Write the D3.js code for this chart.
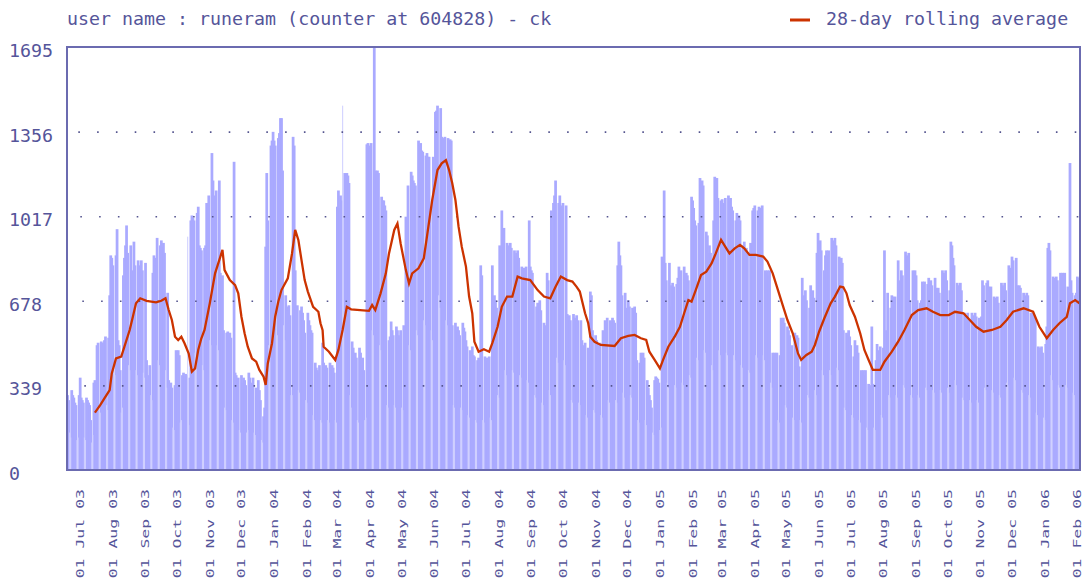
<!DOCTYPE html>
<html>
<head>
<meta charset="utf-8">
<script src="https://cdn.jsdelivr.net/npm/d3@7"></script>
<style>
  body { margin: 0; background: #fff; }
  svg { display: block; }
  text { font-family: "DejaVu Sans Mono", monospace; fill: #55559a; }
</style>
</head>
<body>
<svg width="1083" height="581"></svg>
<script>
const title = "user name : runeram (counter at 604828) - ck";
const legendLabel = "28-day rolling average";
const firstDay = new Date(Date.UTC(2003, 5, 19));
const endDay = new Date(Date.UTC(2006, 1, 4));
const yTicks = [0, 339, 678, 1017, 1356, 1695];

// daily hits, 19 Jun 2003 .. 31 Dec 2003
const hits2003 = [
  300, 280, 150, 130, 320, 300, 290,  270, 260, 120, 130, 300, 370, 290,
  280, 270, 130, 120, 290, 280, 270,  260, 200, 110, 140, 350, 360, 340,
  500, 510, 250, 230, 515, 505, 510,  520, 535, 260, 240, 530, 700, 860,
  850, 820, 400, 380, 860, 965, 520,  500, 400, 230, 250, 780, 850, 900,
  980, 870, 420, 400, 900, 800, 760,  915, 820, 400, 380, 840, 800, 820,
  840, 800, 390, 370, 830, 440, 360,  380, 420, 300, 280, 790, 860, 820,
  850, 930, 440, 420, 900, 920, 895,  910, 870, 400, 330, 710, 360, 340,
  350, 330, 170, 160, 340, 480, 470,  480, 460, 190, 200, 380, 390, 375,
  385, 380, 935, 180, 370, 1000, 1020, 1010, 1000, 470, 450, 1030, 1055, 900,
  890, 880, 420, 400, 890, 900, 1070, 1050, 1100, 520, 500, 1270, 1160, 1100,
  1070, 1120, 500, 480, 1160, 790, 770, 780, 560, 250, 240, 550, 555, 540,
  550, 530, 200, 190, 1235, 390, 380, 360, 370, 160, 150, 380, 350, 370,
  360, 340, 150, 160, 390, 370, 350,  340, 370, 150, 140, 330, 300, 360,
  320, 280, 120, 110, 215, 250, 895,  1190, 1000, 500, 480, 1300, 1320, 1355
];

// daily hits, 2004
const hits2004 = [
  1320, 1300, 560, 540, 1330, 1350, 1410, 1410, 1200, 580, 520, 700, 655, 640,
  660, 620, 300, 300, 1335, 1300, 800,  650, 660, 320, 310, 640, 655, 630,
  600, 550, 280, 270, 630, 600, 580,  560, 550, 220, 200, 430, 410, 400,
  390, 420, 200, 190, 510, 430, 400,  420, 410, 200, 190, 430, 400, 420,
  410, 390, 200, 190, 1055, 1120, 1050, 1100, 1080, 1460, 600, 1190, 1180, 1190,
  1180, 1150, 300, 250, 515, 490, 460, 470, 450, 200, 190, 490, 470, 420,
  450, 400, 200, 210, 1305, 1310, 1300, 1290, 1310, 560, 540, 1695, 1200, 1190,
  1200, 1190, 500, 480, 1095, 1080, 1080, 1060, 1040, 260, 250, 520, 535, 595,
  560, 540, 260, 250, 575, 560, 540,  530, 560, 250, 240, 580, 560, 1015,
  900, 1140, 500, 480, 1195, 1180, 1160, 1150, 1140, 560, 540, 1320, 1300, 1310,
  1280, 1275, 600, 580, 1260, 1270, 1255, 1255, 1040, 560, 520, 1255, 1240, 1435,
  1440, 1460, 700, 650, 1450, 1335, 1330, 1320, 1335, 600, 580, 1330, 1320, 1325,
  1320, 580, 260, 250, 590, 560, 575,  560, 540, 250, 240, 590, 570, 555,
  520, 495, 220, 210, 480, 470, 495,  460, 455, 200, 190, 440, 450, 430,
  820, 780, 200, 190, 455, 440, 450,  440, 455, 210, 200, 820, 655, 700,
  680, 650, 300, 290, 900, 880, 1040,  870, 970, 400, 380, 910, 900, 880,
  910, 890, 400, 390, 880, 860, 870,  880, 850, 380, 370, 815, 800, 810,
  790, 815, 360, 350, 1000, 815, 800,  790, 680, 300, 290, 655, 670, 660,
  680, 640, 270, 260, 590, 580, 570,  790, 760, 320, 300, 1040, 790, 1070,
  1100, 1160, 450, 430, 1070, 1100, 1060, 1055, 1070, 440, 420, 1060, 625, 610,
  620, 600, 280, 270, 625, 610, 600,  620, 600, 270, 260, 600, 520, 500,
  470, 510, 220, 210, 490, 470, 715,  700, 560, 240, 230, 540, 520, 500,
  455, 510, 220, 210, 560, 530, 600,  595, 610, 280, 270, 600, 595, 610,
  600, 590, 280, 270, 820, 915, 860,  820, 700, 310, 290, 710, 620, 650,
  680, 655, 300, 290, 650, 640, 655,  630, 440, 200, 190, 430, 470, 460,
  470, 450, 200, 180, 360, 330, 300,  280, 250, 150, 140, 360, 375, 370,
  365, 350
];

// daily hits, 2005
const hits2005 = [
  160, 170, 855, 820, 1120,
  830, 760, 350, 330, 830, 655, 740,  750, 735, 340, 330, 745, 770, 815,
  780, 800, 350, 340, 815, 750, 790,  780, 760, 380, 370, 1095, 1080, 1050,
  1000, 980, 450, 440, 990, 1170, 1150, 1160, 1140, 480, 470, 955, 940, 870,
  900, 870, 420, 400, 1000, 1175, 1160, 1170, 1090, 480, 460, 1080, 1085, 1070,
  1060, 1090, 470, 460, 1100, 1080, 1090, 1055, 1040, 460, 440, 1000, 1030, 995,
  1020, 1000, 420, 410, 900, 915, 880,  890, 870, 400, 390, 910, 900, 1040,
  1050, 1060, 460, 450, 1040, 1055, 1050, 1045, 1060, 460, 440, 800, 790, 800,
  780, 800, 350, 330, 470, 460, 470,  450, 470, 200, 190, 460, 610, 600,
  610, 590, 260, 250, 575, 560, 540,  470, 500, 210, 200, 550, 415, 540,
  530, 415, 200, 190, 770, 550, 700,  720, 680, 300, 290, 650, 740, 700,
  720, 690, 320, 300, 870, 950, 900,  920, 880, 400, 380, 800, 860, 880,
  860, 880, 400, 380, 930, 920, 910,  930, 900, 410, 400, 855, 840, 850,
  830, 560, 250, 240, 550, 540, 560,  535, 500, 220, 210, 455, 520, 480,
  500, 470, 200, 190, 400, 390, 400,  380, 400, 170, 160, 345, 330, 340,
  575, 345, 170, 160, 440, 505, 480,  470, 495, 220, 210, 490, 880, 480,
  560, 710, 300, 290, 650, 700, 695,  680, 695, 300, 290, 840, 710, 760,
  800, 780, 340, 330, 875, 860, 850,  870, 680, 300, 290, 800, 790, 800,
  780, 680, 300, 290, 670, 680, 755,  740, 755, 330, 320, 745, 770, 740,
  760, 740, 320, 310, 770, 730, 720,  730, 710, 320, 310, 800, 790, 780,
  800, 760, 330, 310, 720, 915, 900,  850, 820, 360, 340, 750, 740, 730,
  750, 720, 290, 280, 630, 620, 610,  630, 600, 280, 270, 630, 620, 600,
  630, 615, 280, 270, 610, 600, 615,  760, 740, 330, 320, 750, 760, 735,
  720, 735, 320, 310, 695, 680, 690,  695, 670, 300, 290, 750, 740, 730,
  750, 720, 350, 340, 820, 800, 810,  855, 840, 370, 360, 850, 740, 720,
  740, 730, 320, 310, 710, 700, 690,  710, 700, 300, 290, 630, 620, 630,
  620, 600, 230, 220, 495, 480, 490,  495, 470, 210
];

// daily hits, 1 Jan 2006 .. 3 Feb 2006
const hits2006 = [
  200, 505, 575, 890,
  910, 880, 380, 360, 775, 760, 770,  775, 760, 340, 330, 790, 780, 790,
  780, 790, 340, 330, 735, 720, 1230,  760, 710, 310, 300, 700, 710, 775,
  770, 760
];

// 28-day rolling average: [days since 19 Jun 2003, value]
const rollingAvg = [
  [26,230],[31,260],[35,287],[40,320],[42,387],[46,447],[51,454],[54,494],[59,561],[62,614],
  [65,668],[69,688],[75,678],[84,672],[89,678],[93,688],[96,641],[99,601],[102,534],[105,521],
  [108,534],[111,508],[115,467],[118,394],[121,407],[124,481],[127,528],[130,561],[135,668],[140,788],
  [144,841],[147,882],[149,801],[154,761],[159,741],[162,708],[165,614],[168,548],[171,494],[175,447],
  [179,434],[182,401],[186,374],[188,341],[190,427],[194,508],[197,614],[200,675],[203,721],[209,768],
  [213,868],[216,962],[219,922],[222,841],[225,761],[228,715],[233,654],[238,634],[240,588],[242,560],
  [243,494],[248,474],[254,441],[257,481],[261,561],[265,654],[269,644],[286,638],[289,661],[292,641],
  [297,708],[302,788],[305,868],[310,962],[313,988],[316,908],[321,801],[324,748],[327,788],[333,808],
  [338,848],[341,935],[346,1082],[351,1202],[355,1229],[359,1242],[362,1202],[365,1149],[368,1082],[371,975],
  [374,895],[378,815],[381,695],[384,628],[386,514],[390,474],[395,484],[400,474],[403,508],[408,574],
  [412,654],[417,695],[422,695],[427,775],[431,768],[439,761],[446,721],[452,695],[458,688],[463,734],
  [468,775],[474,761],[479,755],[483,734],[486,715],[491,628],[494,588],[496,534],[500,514],[506,501],
  [519,497],[525,528],[532,537],[538,541],[544,528],[549,521],[552,474],[557,441],[562,407],[565,441],
  [570,494],[576,534],[581,574],[585,628],[589,681],[592,675],[596,721],[601,781],[606,795],[611,828],
  [615,868],[620,922],[625,888],[628,868],[633,888],[638,902],[642,888],[647,862],[653,862],[660,855],
  [664,835],[669,788],[674,721],[679,654],[683,601],[688,548],[693,467],[696,441],[701,461],[706,474],
  [709,501],[713,554],[718,608],[724,668],[728,695],[733,735],[736,732],[739,708],[742,661],[747,614],
  [752,548],[756,481],[760,441],[764,401],[771,401],[775,434],[782,474],[788,514],[794,561],[801,621],
  [807,641],[815,648],[821,634],[828,621],[836,621],[842,634],[850,628],[856,601],[862,574],[869,554],
  [877,561],[885,574],[891,601],[897,634],[907,648],[916,634],[922,574],[929,528],[935,561],[941,588],
  [948,614],[951,668],[956,681],[960,668]
];

const margin = {top: 47, right: 3, bottom: 111, left: 67},
    width = 1083 - margin.left - margin.right,
    height = 581 - margin.top - margin.bottom;

const frameColor = "#6b6bb0";
const barColor = "#aaaaff";
const weekendColor = "#d0d0ff";
const avgColor = "#cc3300";

const x = d3.scaleUtc().domain([firstDay, endDay]).range([0, width]);
const y = d3.scaleLinear().domain([0, d3.max(yTicks)]).range([height, 0]);
const dayW = x(d3.utcDay.offset(firstDay, 1)) - x(firstDay);

const hits = [...hits2003, ...hits2004, ...hits2005, ...hits2006]
    .map((v, i) => ({date: d3.utcDay.offset(firstDay, i), value: v}));
const isWeekend = d => d.date.getUTCDay() === 0 || d.date.getUTCDay() === 6;

const root = d3.select("svg");

root.append("text")
    .attr("x", 67)
    .attr("y", 25)
    .attr("font-size", "18.3px")
    .text(title);

root.append("line")
    .attr("x1", 790).attr("x2", 810)
    .attr("y1", 20).attr("y2", 20)
    .attr("stroke", avgColor)
    .attr("stroke-width", 3);

root.append("text")
    .attr("x", 826)
    .attr("y", 25)
    .attr("font-size", "18.3px")
    .text(legendLabel);

const svg = root.append("g")
    .attr("transform", `translate(${margin.left},${margin.top})`);

svg.append("clipPath")
    .attr("id", "plot-clip")
    .append("rect")
    .attr("width", width)
    .attr("height", height);

const bars = svg.append("g").attr("clip-path", "url(#plot-clip)");

// weekday bars are drawn wide so they close over the gaps,
// weekend bars go on top, narrower and lighter
bars.selectAll(".bar")
    .data(hits.filter(d => !isWeekend(d)))
    .join("rect")
    .attr("class", "bar")
    .attr("x", d => x(d.date) - 0.8 * dayW)
    .attr("width", 2.6 * dayW)
    .attr("y", d => y(d.value))
    .attr("height", d => height - y(d.value))
    .attr("fill", barColor);

bars.selectAll(".wbar")
    .data(hits.filter(isWeekend))
    .join("rect")
    .attr("class", "wbar")
    .attr("x", d => x(d.date))
    .attr("width", dayW)
    .attr("y", d => y(d.value))
    .attr("height", d => height - y(d.value))
    .attr("fill", weekendColor);

// dotted gridlines
svg.selectAll(".grid")
    .data(yTicks.slice(1, -1))
    .join("line")
    .attr("class", "grid")
    .attr("x1", (d, i) => 17.3 - 2 * i)
    .attr("x2", width)
    .attr("y1", d => y(d) + 0.5)
    .attr("y2", d => y(d) + 0.5)
    .attr("stroke", "#55558f")
    .attr("stroke-width", 1.6)
    .attr("stroke-dasharray", "1.6 17.2");

const avgLine = d3.line()
    .x(d => x(d3.utcDay.offset(firstDay, d[0])) + 0.5)
    .y(d => y(d[1]));

svg.append("path")
    .datum(rollingAvg)
    .attr("fill", "none")
    .attr("stroke", avgColor)
    .attr("stroke-width", 2.3)
    .attr("d", avgLine);

svg.append("rect")
    .attr("width", width)
    .attr("height", height)
    .attr("fill", "none")
    .attr("stroke", frameColor)
    .attr("stroke-width", 2);

// y labels, left aligned at the page edge
root.selectAll(".ylab")
    .data(yTicks)
    .join("text")
    .attr("class", "ylab")
    .attr("x", 9)
    .attr("y", d => margin.top + y(d) + 10)
    .attr("font-size", "18.3px")
    .text(d => d);

const xAxis = d3.axisBottom(x)
    .ticks(d3.utcMonth.every(1))
    .tickFormat(d3.utcFormat("%d %b %y"))
    .tickSize(0);

const gx = svg.append("g")
    .attr("transform", `translate(0,${height})`)
    .call(xAxis)
    .attr("font-family", null)
    .attr("font-size", null);

gx.select(".domain").remove();

gx.selectAll("text")
    .attr("x", 0)
    .attr("y", 0)
    .attr("dy", "0.36em")
    .attr("font-size", "11px")
    .attr("fill", "#4f4f9c")
    .attr("text-anchor", "end")
    .attr("transform", "translate(0,19) rotate(-90) scale(1.5,1)");
</script>
</body>
</html>
